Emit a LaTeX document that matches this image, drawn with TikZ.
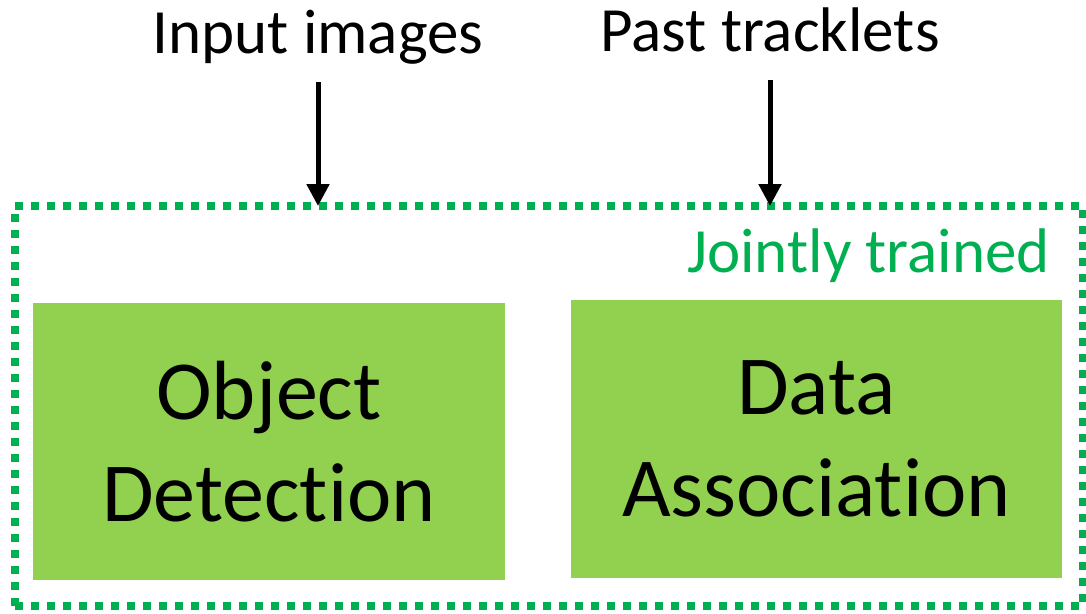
\documentclass[tikz,border=0pt]{standalone}
\usepackage{fontspec}
\setmainfont{Carlito}[Ligatures = NoCommon]
\usepackage{tikz}
\usetikzlibrary{arrows.meta,shapes,calc}

\definecolor{boxgreen}{HTML}{92D050}
\definecolor{linegreen}{HTML}{00B050}

\begin{document}
\begin{tikzpicture}[x=1pt,y=-1pt]
\tikzset{
	input label/.style = {anchor = base, font = \fontsize{63}{76}\selectfont},
	block node/.style = {rectangle, fill = boxgreen, inner sep = 0, outer sep = 0, align = center, font = \fontsize{84}{102}\selectfont},
	joint frame/.style = {rectangle, draw = linegreen, line width = 8pt, dash pattern = on 8pt off 8pt, inner sep = 0, outer sep = 0},
	feed arrow/.style = {line width = 5pt, -{Triangle[width = 22pt, length = 22pt]}},
}
\useasboundingbox (0,0) rectangle (1086,613);

\node(frame)[joint frame, minimum width = 1068, minimum height = 400] at (549,406){};
\node(jointly)[anchor = base east, text = linegreen, font = \fontsize{63}{76}\selectfont, inner sep = 0] at (1050,272){Jointly trained};

\node(detect)[block node, minimum width = 472, minimum height = 277] at (269,441.5){Object\\Detection};
\node(assoc)[block node, minimum width = 491, minimum height = 278] at (816.5,439){Data\\Association};

\node(images)[input label] at (318,53){Input images};
\node(tracks)[input label] at (770,51){Past tracklets};

% arrows into the frame
\coordinate (imagesfoot) at (318,82);
\coordinate (tracksfoot) at (770,80);
\draw[feed arrow] (imagesfoot) -- (imagesfoot |- frame.north);
\draw[feed arrow] (tracksfoot) -- (tracksfoot |- frame.north);

\end{tikzpicture}
\end{document}
